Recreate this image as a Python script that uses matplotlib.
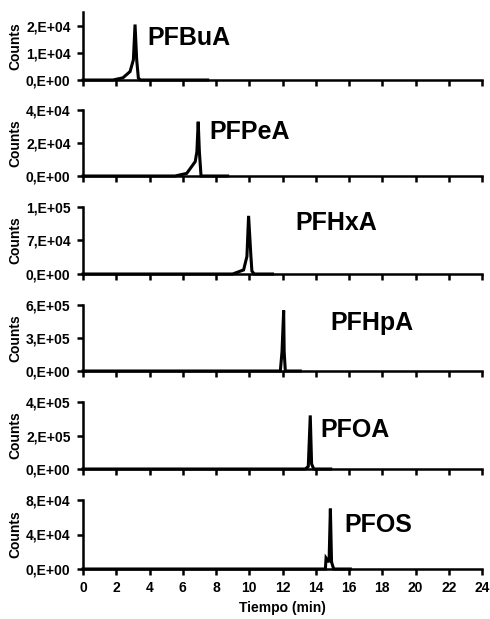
import numpy as np
import matplotlib.pyplot as plt

plt.rcParams["font.family"] = ["Liberation Sans", "DejaVu Sans"]
plt.rcParams["font.weight"] = "bold"

# ============================
#  DATOS (leídos del cromatograma)
# ============================
compuestos = ["PFBuA", "PFPeA", "PFHxA", "PFHpA", "PFOA", "PFOS"]

t_pfbua = [0, 1.8, 2.4, 2.83, 3.03, 3.13, 3.23, 3.33, 3.45, 7.5]
c_pfbua = [0, 0, 800, 3100, 7400, 20400, 7400, 700, 0, 0]

t_pfpea = [0, 5.54, 6.24, 6.75, 6.85, 6.93, 7.0, 7.1, 8.7]
c_pfpea = [0, 0, 1600, 8700, 14700, 32900, 14700, 0, 0]

t_pfhxa = [0, 9.0, 9.66, 9.86, 9.96, 10.1, 10.16, 10.3, 11.4]
c_pfhxa = [0, 0, 8500, 36700, 121500, 36700, 6000, 0, 0]

t_pfhpa = [0, 11.87, 11.97, 12.07, 12.1, 12.17, 12.3, 13.07]
c_pfhpa = [0, 0, 175000, 550000, 175000, 0, 0, 0]

t_pfoa = [0, 13.37, 13.55, 13.67, 13.75, 13.88, 14.9]
c_pfoa = [0, 0, 15000, 320000, 30000, 0, 0]

t_pfos = [0, 14.58, 14.62, 14.8, 14.88, 14.95, 15.08, 16.08]
c_pfos = [0, 0, 12800, 8000, 70000, 8000, 0, 0]

tiempos = [t_pfbua, t_pfpea, t_pfhxa, t_pfhpa, t_pfoa, t_pfos]
cuentas = [c_pfbua, c_pfpea, c_pfhxa, c_pfhpa, c_pfoa, c_pfos]

# marcas del eje y y sus etiquetas (formato tipo Excel 0,E+00)
y_ticks = [[0, 1e4, 2e4], [0, 2e4, 4e4], [0, 7e4, 1.4e5],
           [0, 3e5, 6e5], [0, 2e5, 4e5], [0, 4e4, 8e4]]
y_labels = [["0,E+00", "1,E+04", "2,E+04"],
            ["0,E+00", "2,E+04", "4,E+04"],
            ["0,E+00", "7,E+04", "1,E+05"],
            ["0,E+00", "3,E+05", "6,E+05"],
            ["0,E+00", "2,E+05", "4,E+05"],
            ["0,E+00", "4,E+04", "8,E+04"]]
y_max = [2.5e4, 4e4, 1.4e5, 6e5, 4e5, 8e4]

x_ticks = list(range(0, 25, 2))

# posición de las etiquetas (tiempo, fracción del eje y)
pos_etiqueta = [(3.85, 0.62), (7.6, 0.67), (12.8, 0.76),
                (14.9, 0.72), (14.3, 0.58), (15.7, 0.64)]

# ============================
#  FIGURA
# ============================
W, H = 490, 619
fig = plt.figure(figsize=(W / 100, H / 100), dpi=100)

# (pixel del cero, pixel del tope) de cada panel
cajas = [(80, 12), (176, 110), (274, 207), (371, 305), (469, 402), (569, 500)]
x0, x1 = 83, 482

for i, (abajo, arriba) in enumerate(cajas):
    ax = fig.add_axes([x0 / W, 1 - abajo / H, (x1 - x0) / W, (abajo - arriba) / H])
    ax.plot(tiempos[i], cuentas[i], color="black", lw=2.2, clip_on=False,
            solid_joinstyle="miter")
    ax.set_xlim(0, 24)
    ax.set_ylim(0, y_max[i])
    ax.set_yticks(y_ticks[i])
    ax.set_yticklabels(y_labels[i])
    ax.set_xticks(x_ticks)
    if i < 5:
        ax.set_xticklabels([])
    else:
        ax.set_xticklabels([str(v) for v in x_ticks])
        ax.set_xlabel("Tiempo (min)", fontsize=10, fontweight="bold", labelpad=4)
    for s in ["top", "right"]:
        ax.spines[s].set_visible(False)
    for s in ["left", "bottom"]:
        ax.spines[s].set_linewidth(1.8)
    ax.tick_params(direction="out", length=4, width=1.8, labelsize=10, pad=5)
    ax.set_ylabel("Counts", fontsize=10, fontweight="bold")
    ax.yaxis.set_label_coords(-0.152, 0.5)
    ax.text(pos_etiqueta[i][0], pos_etiqueta[i][1] * y_max[i], compuestos[i],
            fontsize=18, fontweight="bold", va="center", ha="left")
    ax.patch.set_alpha(0)

fig.savefig("out.png", dpi=100)
